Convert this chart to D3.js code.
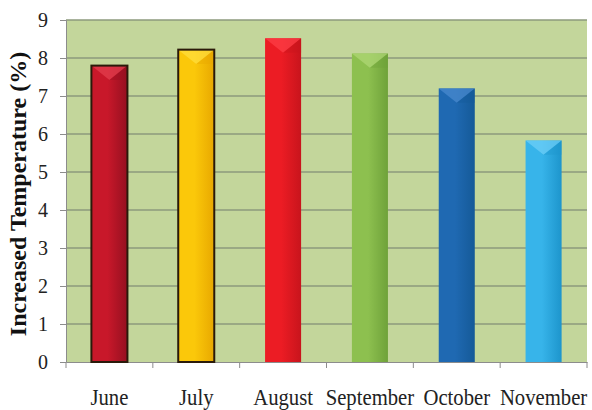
<!DOCTYPE html>
<html><head><meta charset="utf-8">
<script src="https://cdn.jsdelivr.net/npm/d3@7"></script>
<style>body{margin:0;background:#fff}svg{display:block}</style>
</head><body>
<svg id="c" width="592" height="410"></svg>
<script>
const categories = ["June","July","August","September","October","November"];
const values = [7.8, 8.22, 8.52, 8.12, 7.2, 5.83];
const colors = ["#c8182a","#fbc80a","#ec1c24","#8dc04f","#1f69b2","#37b4ea"];
const darks  = ["#951020","#e8a800","#c8141c","#6fa23a","#155a98","#1d95cc"];
const lights = ["#e44050","#ffe040","#ff4048","#b0d878","#4c8cd0","#70d0f8"];
const outlined = [true,true,false,false,false,false];
const yTicks = [0,1,2,3,4,5,6,7,8,9];

const svg = d3.select("#c");
const m = {l:66,r:5,t:20,b:48};
const W = 592, H = 410;
const x = d3.scaleBand().domain(categories).range([m.l, W-m.r]).paddingInner(0.585).paddingOuter(0.2925);
const y = d3.scaleLinear().domain([0,9]).range([H-m.b, m.t]);

const defs = svg.append("defs");
categories.forEach((c,i)=>{
  const g = defs.append("linearGradient").attr("id","g"+i).attr("x1","0").attr("x2","1").attr("y1","0").attr("y2","0");
  g.append("stop").attr("offset","0").attr("stop-color",colors[i]);
  g.append("stop").attr("offset","0.45").attr("stop-color",colors[i]);
  g.append("stop").attr("offset","1").attr("stop-color",darks[i]);
});

svg.append("rect").attr("x",m.l).attr("y",m.t).attr("width",W-m.r-m.l).attr("height",y(0)-m.t).attr("fill","#c3d69b");

svg.append("g").selectAll("line").data(yTicks.filter(d=>d>0)).join("line")
  .attr("x1",m.l).attr("x2",W-m.r).attr("y1",d=>y(d)).attr("y2",d=>y(d))
  .attr("stroke","#8c9a7c").attr("stroke-width",1.3);

const yAxis = svg.append("g").attr("transform",`translate(${m.l},0)`)
  .call(d3.axisLeft(y).tickValues(yTicks).tickSize(6).tickPadding(12));
yAxis.select(".domain").attr("stroke","#8c8c8c");
yAxis.selectAll(".tick line").attr("stroke","#8c8c8c");
yAxis.selectAll("text").attr("font-family","Liberation Serif, serif").attr("font-size",20).attr("fill","#222");

const xAxis = svg.append("g").attr("transform",`translate(0,${y(0)})`)
  .call(d3.axisBottom(x).tickSize(0).tickPadding(27));
xAxis.select(".domain").attr("stroke","#8c8c8c");
xAxis.selectAll("text").attr("font-family","Liberation Serif, serif").attr("font-size",23).attr("fill","#222")
  .attr("transform","scale(0.9,1)");
const step = x.step();
svg.append("g").selectAll("line").data(d3.range(categories.length+1)).join("line")
  .attr("x1",i=>m.l+i*step).attr("x2",i=>m.l+i*step).attr("y1",y(0)).attr("y2",y(0)+6)
  .attr("stroke","#8c8c8c");

const bars = svg.append("g").selectAll("g").data(categories).join("g");
bars.append("rect")
  .attr("x",d=>x(d)).attr("y",(d,i)=>y(values[i])).attr("width",x.bandwidth())
  .attr("height",(d,i)=>y(0)-y(values[i])).attr("fill",(d,i)=>`url(#g${i})`);
bars.append("path").attr("d",(d,i)=>{
  const x0=x(d), w=x.bandwidth(), t=y(values[i]);
  return `M${x0},${t}L${x0+w},${t}L${x0+w/2},${t+w*0.4}Z`;
}).attr("fill",(d,i)=>lights[i]).attr("opacity",0.7);
bars.append("path").attr("d",(d,i)=>{
  const x0=x(d), w=x.bandwidth(), t=y(values[i]);
  return `M${x0+w},${t}L${x0+w},${t+w*0.4}L${x0+w/2},${t+w*0.4}Z`;
}).attr("fill",(d,i)=>darks[i]).attr("opacity",0.4);
bars.filter((d,i)=>outlined[i]).append("rect")
  .attr("x",d=>x(d)).attr("y",(d)=>y(values[categories.indexOf(d)])).attr("width",x.bandwidth())
  .attr("height",d=>y(0)-y(values[categories.indexOf(d)]))
  .attr("fill","none").attr("stroke","#2a1a0a").attr("stroke-width",2);

svg.append("text").attr("transform",`translate(26,${(m.t+y(0))/2+3}) rotate(-90)`)
  .attr("text-anchor","middle").attr("font-family","Liberation Serif, serif").attr("font-weight","bold")
  .attr("font-size",24).attr("fill","#111").text("Increased Temperature (%)");
</script>
</body></html>
